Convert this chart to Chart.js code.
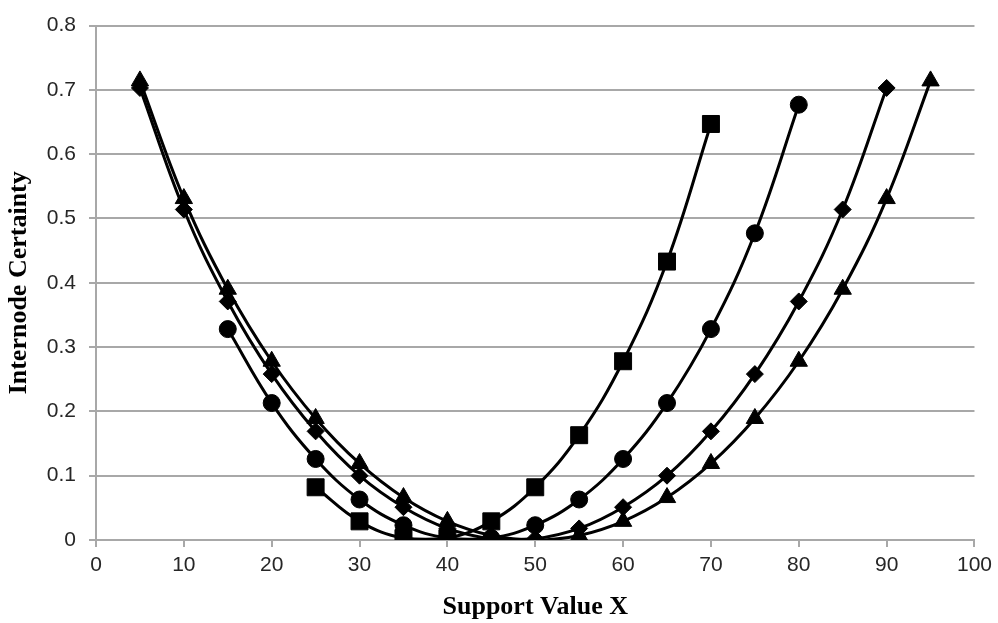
<!DOCTYPE html>
<html>
<head>
<meta charset="utf-8">
<script src="https://cdn.jsdelivr.net/npm/chart.js@4.4.1/dist/chart.umd.min.js"></script>
<style>
  html, body { margin: 0; padding: 0; background: #ffffff; }
  #wrap { width: 998px; height: 623px; }
</style>
</head>
<body>
<div id="wrap"><canvas id="c" width="998" height="623"></canvas></div>
<script>
// ---- data ----
const squareX   = [25, 30, 35, 40, 45, 50, 55, 60, 65, 70];
const squareY   = [0.082, 0.029, 0.003, 0.003, 0.029, 0.082, 0.163, 0.278, 0.433, 0.647];

const circleX   = [15, 20, 25, 30, 35, 40, 45, 50, 55, 60, 65, 70, 75, 80];
const circleY   = [0.328, 0.213, 0.126, 0.063, 0.023, 0.003, 0.003, 0.023, 0.063, 0.126, 0.213, 0.328, 0.477, 0.677];

const diamondX  = [5, 10, 15, 20, 25, 30, 35, 40, 45, 50, 55, 60, 65, 70, 75, 80, 85, 90];
const diamondY  = [0.703, 0.514, 0.371, 0.258, 0.169, 0.100, 0.051, 0.018, 0.002, 0.002, 0.018, 0.051, 0.100, 0.169, 0.258, 0.371, 0.514, 0.703];

const triangleX = [5, 10, 15, 20, 25, 30, 35, 40, 45, 50, 55, 60, 65, 70, 75, 80, 85, 90, 95];
const triangleY = [0.714, 0.531, 0.390, 0.278, 0.189, 0.119, 0.066, 0.029, 0.007, 0.000, 0.007, 0.029, 0.066, 0.119, 0.189, 0.278, 0.390, 0.531, 0.714];

const xTickLabels = ['0', '10', '20', '30', '40', '50', '60', '70', '80', '90', '100'];
const yTickLabels = ['0', '0.1', '0.2', '0.3', '0.4', '0.5', '0.6', '0.7', '0.8'];

const xTitle = 'Support Value X';
const yTitle = 'Internode Certainty';

function pts(xs, ys) { return xs.map((x, i) => ({ x: x, y: ys[i] })); }

function series(label, xs, ys, style, radius) {
  return {
    label: label,
    data: pts(xs, ys),
    borderColor: '#000000',
    backgroundColor: '#000000',
    borderWidth: 3,
    tension: 0.4,
    pointStyle: style,
    pointRadius: radius,
    pointHoverRadius: radius,
    pointBackgroundColor: '#000000',
    pointBorderColor: '#000000',
    pointBorderWidth: 1,
    fill: false
  };
}

const gridColor = '#a8a8a8';
const tickFont = { family: '"Liberation Sans", Arial, sans-serif', size: 21 };
const titleFont = { family: '"Liberation Serif", "Times New Roman", serif', size: 26, weight: 'bold' };

new Chart(document.getElementById('c'), {
  type: 'line',
  data: {
    datasets: [
      series('Square', squareX, squareY, 'rect', 12),
      series('Circle', circleX, circleY, 'circle', 8.5),
      series('Diamond', diamondX, diamondY, 'rectRot', 8.5),
      series('Triangle', triangleX, triangleY, 'triangle', 10)
    ]
  },
  options: {
    responsive: false,
    animation: false,
    devicePixelRatio: 1,
    layout: { padding: { top: 20, right: 20, left: 0, bottom: 0 } },
    plugins: {
      legend: { display: false },
      tooltip: { enabled: false }
    },
    scales: {
      x: {
        type: 'linear',
        min: 0,
        max: 100,
        afterFit: (s) => { s.height = 83; },
        ticks: {
          stepSize: 10,
          color: '#262626',
          font: tickFont,
          padding: 6,
          maxRotation: 0,
          callback: (v, i) => xTickLabels[i]
        },
        grid: {
          drawOnChartArea: false,
          drawTicks: true,
          tickLength: 7,
          color: gridColor,
          lineWidth: 2
        },
        border: { display: true, color: gridColor, width: 2 },
        title: {
          display: true,
          text: xTitle,
          color: '#000000',
          font: titleFont,
          padding: { top: 0, bottom: 0 }
        }
      },
      y: {
        type: 'linear',
        min: 0,
        max: 0.8,
        afterFit: (s) => { s.width = 96; },
        ticks: {
          stepSize: 0.1,
          color: '#262626',
          font: tickFont,
          padding: 13,
          callback: (v, i) => yTickLabels[i]
        },
        grid: {
          drawOnChartArea: true,
          drawTicks: true,
          tickLength: 7,
          color: gridColor,
          lineWidth: 2
        },
        border: { display: true, color: gridColor, width: 2 },
        title: {
          display: true,
          text: yTitle,
          color: '#000000',
          font: titleFont,
          padding: { top: 4, bottom: 0 }
        }
      }
    }
  }
});
</script>
</body>
</html>
